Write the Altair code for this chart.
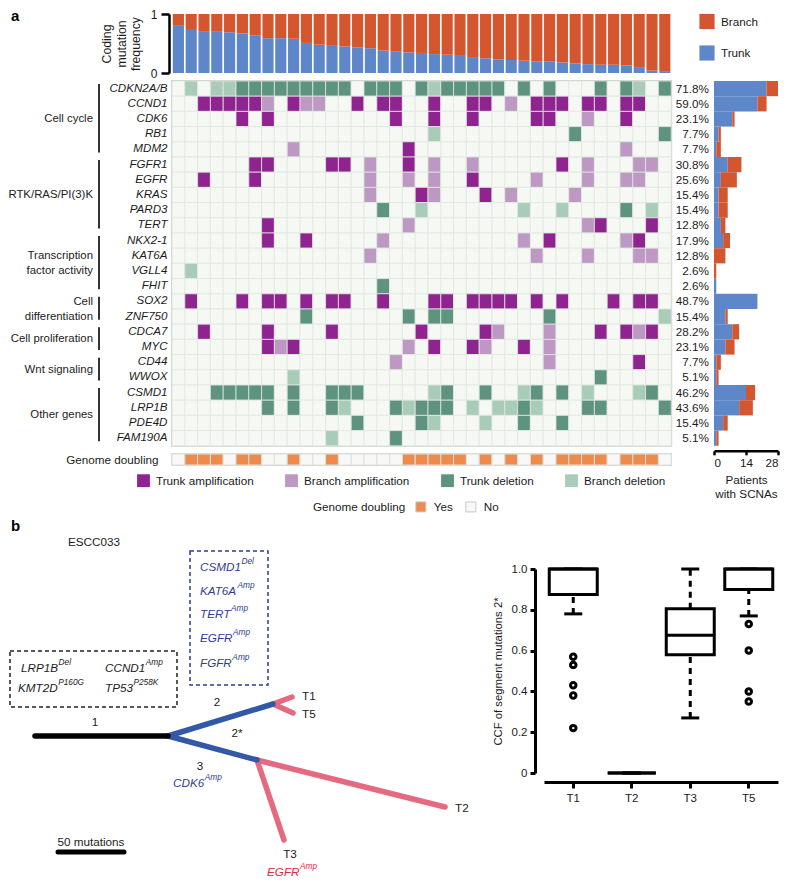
import altair as alt
import pandas as pd

FONT = "Liberation Sans"
TXT = "#1b1b1b"
FS = 11.7

BLUE = "#5E87C9"     # trunk
RED = "#D4562E"      # branch
C_TA = "#8F2490"
C_BA = "#BD98C3"
C_TD = "#5E947F"
C_BD = "#A9CCB9"
C_EMPTY = "#F5F8F3"
C_GRID = "#E1E7DF"
C_GD = "#EF8A4D"
NAVY = "#2E3D91"
TREE_BLUE = "#3358A8"
PINK = "#E56A80"
ERED = "#E0283C"

# ---------------- panel a data ----------------
n_patients = 39
genes = ["CDKN2A/B", "CCND1", "CDK6", "RB1", "MDM2",
         "FGFR1", "EGFR", "KRAS", "PARD3", "TERT",
         "NKX2-1", "KAT6A", "VGLL4", "FHIT",
         "SOX2", "ZNF750", "CDCA7", "MYC", "CD44", "WWOX",
         "CSMD1", "LRP1B", "PDE4D", "FAM190A"]
# one character per patient: A trunk amp, a branch amp, D trunk del, d branch del, . none
scna_calls = [
    ".d.dd DDDDD DDDD. DDD.D dDDDD D.D.D ...D. Dd.D",
    "..AAA AAa.A aa..A .AA.. A..AA .a.AA A.AA. AA..",
    "..... A.A.. ..... ..A.. A..A. ...AA ..a.. A...",
    "..... ..... ..... ..... d.... ..... .D... ...D",
    "..... ....a ..... ...A. ..... ..... ..... a...",
    "..... .AA.. ..AA. a..A. a..a. ..... A.a.. .aa.",
    "..A.. .A... ..... a..a. a..A. ...a. ..a.. aa..",
    "..... ..... ..... a...A a...A .a... .a... ....",
    "..... ..... ..... .D..d ..... ..d.. d.... D.d.",
    "..... ..A.. ..... ...a. ..... ..... ..aA. ..A.",
    "..... ..A.. A.... .a... ..... ..a.A ..... aA..",
    "..... ..... ..... a.... ..... ...a. ..a.. .aa.",
    ".d... ..... ..... ..... ..... ..... ..... ....",
    "..... ..... ..... .D... ..... ..... ..... ....",
    ".A... A.AA. A.AA. .A... AA.AA AA.A. A...A .AA.",
    "..... ..... D.... ...D. DD... ....D ..... ...d",
    "..A.. ..A.. ..A.. ....A ....A a...a ...A. AaA.",
    "..... ..AaA ..... ...a. A..Aa ..A.a ..... ....",
    "..... ..... ..... ..a.. ..... ....a ..... .A..",
    "..... ....d ..... ..... ..... ..... ...D. ....",
    "...DD DDD.D ..DDD ..... dD..D ..dD. D.d.. .dD.",
    "..... ..D.D ..Dd. ..DdD DD.d. ddDd. ..DD. ...D",
    "..... ..... ....D ....D d...d ..D.. D.... ....",
    "..... ..... ..d.. ..D.. ..... ..... ..... ....",
]
genome_doubling = ".YYY. YY..Y ..Y.. ...YY YYY.Y .Y.Y. YYYY. YYY."
trunk_fraction = [0.80, 0.73, 0.71, 0.71, 0.69, 0.67, 0.64, 0.59, 0.59, 0.58,
                  0.51, 0.48, 0.46, 0.45, 0.43, 0.42, 0.38, 0.36, 0.35, 0.34,
                  0.32, 0.31, 0.29, 0.27, 0.25, 0.23, 0.22, 0.21, 0.20, 0.20,
                  0.18, 0.16, 0.15, 0.14, 0.14, 0.13, 0.10, 0.04, 0.02]
group_names = ["Cell cycle", "RTK/RAS/PI(3)K", "Transcription\nfactor activity",
               "Cell\ndifferentiation", "Cell proliferation", "Wnt signaling", "Other genes"]
group_first = ["CDKN2A/B", "FGFR1", "NKX2-1", "SOX2", "CDCA7", "CD44", "CSMD1"]
group_last = ["MDM2", "TERT", "FHIT", "ZNF750", "MYC", "WWOX", "FAM190A"]
status_names = ["Trunk amplification", "Branch amplification", "Trunk deletion", "Branch deletion", "None"]
status_codes = ["A", "a", "D", "d", "."]
legend_kinds = ["Branch", "Trunk"]
scna_axis_ticks = [0, 14, 28]

# ---------------- panel b data ----------------
node_name = ["root", "mrca", "n2", "n3", "T1", "T5", "T3", "T2"]
node_x = [25, 158, 263, 247, 282, 283, 274, 435]
node_y = [210, 210, 178, 234, 171, 187, 314, 281]
edge_from = ["root", "mrca", "mrca", "n2", "n2", "n3", "n3"]
edge_to = ["mrca", "n2", "n3", "T1", "T5", "T3", "T2"]
edge_kind = ["trunk", "shared", "shared", "private", "private", "private", "private"]

tumors = ["T1", "T2", "T3", "T5"]
box_q1 = [0.875, 0.0, 0.58, 0.90]
box_med = [1.0, 0.0, 0.675, 1.0]
box_q3 = [1.0, 0.0, 0.805, 1.0]
whisk_lo = [0.78, 0.0, 0.27, 0.77]
whisk_hi = [1.0, 0.0, 1.0, 1.0]
outlier_tumor = ["T1", "T1", "T1", "T1", "T1", "T5", "T5", "T5", "T5"]
outlier_ccf = [0.57, 0.53, 0.43, 0.38, 0.22, 0.73, 0.60, 0.40, 0.35]
ccf_ticks = [0, 0.2, 0.4, 0.6, 0.8, 1.0]

# ---------------- derived tables ----------------
calls = [s.replace(" ", "") for s in scna_calls]
gd_calls = genome_doubling.replace(" ", "")
assert all(len(s) == n_patients for s in calls) and len(gd_calls) == n_patients
code2name = dict(zip(status_codes, status_names))

W = 12.8 * n_patients
H = 15.2 * len(genes)
GUT = 162
RW = 106      # right column (gap + patients bar)
RGAP = 42

heat_df = pd.DataFrame([{"gene": g, "patient": i, "status": code2name[c]}
                        for g, s in zip(genes, calls) for i, c in enumerate(s)])
trunk_n = [s.count("A") + s.count("D") for s in calls]
branch_n = [s.count("a") + s.count("d") for s in calls]
total_n = [t + b for t, b in zip(trunk_n, branch_n)]
rb_df = pd.DataFrame({"gene": genes, "trunk": trunk_n, "total": total_n,
                      "pct": [f"{100 * t / n_patients:.1f}%" for t in total_n]})
tb_df = pd.DataFrame({"patient": list(range(n_patients)), "trunk": trunk_fraction})
tb_df["all"] = 1.0
gd_df = pd.DataFrame({"patient": list(range(n_patients)), "row": "Genome doubling",
                      "gd": ["Yes" if c == "Y" else "No" for c in gd_calls]})
grp_df = pd.DataFrame({"group": group_names,
                       "first": [genes.index(g) for g in group_first],
                       "last": [genes.index(g) for g in group_last]})
grp_df["y1"] = grp_df["first"] + 0.2
grp_df["y2"] = grp_df["last"] + 0.7
grp_df["mid"] = (grp_df["first"] + grp_df["last"] + 1) / 2.0
grp_df["lines"] = [g.count("\n") + 1 for g in group_names]


def blank(w, h):
    return alt.Chart(pd.DataFrame({"t": [""]})).mark_text().encode(
        text="t:N", x=alt.value(0), y=alt.value(0)).properties(width=w, height=h)


# ---------------- row 1: top bar ----------------
a_label = alt.Chart(pd.DataFrame({"t": ["a"]})).mark_text(
    align="left", baseline="top", fontSize=15, fontWeight="bold", color="black").encode(
    text="t:N", x=alt.value(1), y=alt.value(-5)).properties(width=GUT, height=59)

tbx = alt.X("patient:O", scale=alt.Scale(paddingInner=0.13, paddingOuter=0.065), axis=None)
tb_axis = alt.Axis(values=[0, 1], format="d", title=["Coding", "mutation", "frequency"],
                   titleFontSize=12.3, titleFontWeight="normal", titlePadding=8, titleColor=TXT,
                   labelFontSize=12, labelPadding=4, labelColor=TXT, domainColor="black",
                   domainWidth=2.5, tickColor="black", tickWidth=2.5, tickSize=8, offset=3, grid=False)
tb_trunk = alt.Chart(tb_df).mark_bar(color=BLUE).encode(
    x=tbx, y=alt.Y("trunk:Q", scale=alt.Scale(domain=[0, 1], nice=False), axis=tb_axis))
tb_branch = alt.Chart(tb_df).mark_bar(color=RED).encode(x=tbx, y="trunk:Q", y2="all:Q")
topbar = alt.layer(tb_trunk, tb_branch).properties(width=W, height=59)

bt_df = pd.DataFrame({"kind": legend_kinds})
bt_y = alt.Y("kind:N", scale=alt.Scale(type="point", domain=legend_kinds, range=[7.5, 39], padding=0), axis=None)
bt_b = alt.Chart(bt_df).transform_filter(alt.datum.kind == "Branch").mark_square(
    size=230, color=RED, opacity=1).encode(x=alt.value(35), y=bt_y)
bt_t = alt.Chart(bt_df).transform_filter(alt.datum.kind == "Trunk").mark_square(
    size=230, color=BLUE, opacity=1).encode(x=alt.value(35), y=bt_y)
bt_txt = alt.Chart(bt_df).mark_text(align="left", baseline="middle", fontSize=FS, color=TXT).encode(
    x=alt.value(49), y=bt_y, text="kind:N")
legend_bt = alt.layer(bt_b, bt_t, bt_txt).properties(width=RW, height=59)

# ---------------- row 2: heatmap ----------------
gys = alt.Scale(domain=[0, len(genes)], reverse=True, nice=False, zero=False)
grp_rule = alt.Chart(grp_df).mark_rule(strokeWidth=2, color="#333333").encode(
    x=alt.value(89), y=alt.Y("y1:Q", scale=gys, axis=None), y2="y2:Q")
grp_text1 = alt.Chart(grp_df).transform_filter(alt.datum.lines == 1).mark_text(
    align="right", baseline="middle", fontSize=11.4, color=TXT).encode(
    x=alt.value(83), y=alt.Y("mid:Q", scale=gys, axis=None), text="group:N")
grp_text2 = alt.Chart(grp_df).transform_filter(alt.datum.lines == 2).mark_text(
    align="right", baseline="middle", fontSize=11.4, lineBreak="\n", lineHeight=14.5, dy=-7,
    color=TXT).encode(
    x=alt.value(83), y=alt.Y("mid:Q", scale=gys, axis=None), text="group:N")
groups = alt.layer(grp_rule, grp_text1, grp_text2).properties(width=GUT, height=H)

heat = alt.Chart(heat_df).mark_rect(stroke=C_GRID, strokeWidth=0.8).encode(
    x=alt.X("patient:O", scale=alt.Scale(paddingInner=0, paddingOuter=0), axis=None),
    y=alt.Y("gene:N", sort=genes, scale=alt.Scale(paddingInner=0, paddingOuter=0),
            axis=alt.Axis(title=None, domain=False, ticks=False, labelPadding=5, labelFontSize=11.6,
                          labelFontStyle="italic", labelColor=TXT)),
    color=alt.Color("status:N", scale=alt.Scale(domain=status_names,
                                                range=[C_TA, C_BA, C_TD, C_BD, C_EMPTY]),
                    legend=alt.Legend(title=None, orient="none", legendX=-35, legendY=H + 28,
                                      direction="horizontal", columns=4, values=status_names[:4],
                                      symbolType="square", symbolSize=165, symbolStrokeWidth=0,
                                      labelFontSize=FS, labelColor=TXT, labelOffset=6,
                                      columnPadding=31))
).properties(width=W, height=H, view=alt.ViewBackground(stroke="#C9CDC7", strokeWidth=2))

rby = alt.Y("gene:N", sort=genes, scale=alt.Scale(paddingInner=0, paddingOuter=0), axis=None)
rb_axis = alt.Axis(values=scna_axis_ticks, title=["Patients", "with SCNAs"], titleFontSize=FS,
                   titleFontWeight="normal", titlePadding=5, titleColor=TXT, labelFontSize=FS,
                   labelColor=TXT, labelPadding=3, domainColor="black", domainWidth=2.5,
                   tickColor="black", tickWidth=2.5, tickSize=4, offset=5, grid=False,
                   titleX=RGAP + (RW - RGAP) / 2.0)
rb_trunk = alt.Chart(rb_df).mark_bar(color=BLUE).encode(
    x=alt.X("trunk:Q", scale=alt.Scale(domain=[0, 28], nice=False, range=[RGAP, RW]), axis=rb_axis),
    y=rby)
rb_branch = alt.Chart(rb_df).mark_bar(color=RED).encode(x="trunk:Q", x2="total:Q", y=rby)
rb_text = alt.Chart(rb_df).mark_text(align="right", baseline="middle", fontSize=FS, color=TXT).encode(
    x=alt.value(RGAP - 5), y=rby, text="pct:N")
rightbar = alt.layer(rb_trunk, rb_branch, rb_text).properties(width=RW, height=H)

# ---------------- row 3: genome doubling ----------------
gd = alt.Chart(gd_df).mark_rect(stroke="#DCE0DA", strokeWidth=1).encode(
    x=alt.X("patient:O", scale=alt.Scale(paddingInner=0, paddingOuter=0), axis=None),
    y=alt.Y("row:N", axis=alt.Axis(title=None, domain=False, ticks=False, labelPadding=14,
                                   labelFontSize=FS, labelColor=TXT)),
    color=alt.Color("gd:N", scale=alt.Scale(domain=["Yes", "No"], range=[C_GD, "#F8F8F6"]),
                    legend=alt.Legend(title="Genome doubling", titleOrient="left", orient="none",
                                      legendX=141, legendY=47, direction="horizontal",
                                      symbolType="square", symbolSize=100, symbolStrokeColor="#C8C8C8",
                                      symbolStrokeWidth=1, titleFontWeight="normal", titleFontSize=FS,
                                      titleColor=TXT, labelFontSize=FS, labelColor=TXT,
                                      titlePadding=9, columnPadding=10, labelOffset=7))
).properties(width=W, height=11, view=alt.ViewBackground(stroke="#C9CDC7", strokeWidth=1.5))

panel_a = alt.concat(a_label, topbar, legend_bt,
                     groups, heat, rightbar,
                     blank(GUT, 11), gd, blank(RW, 11),
                     columns=3, spacing={"row": 8, "column": 0}, bounds="flush"
                     ).resolve_scale(color="independent").resolve_legend(color="independent")

# ---------------- panel b: tree ----------------
pos = dict(zip(node_name, zip(node_x, node_y)))
edge_df = pd.DataFrame({"kind": edge_kind,
                        "x": [pos[a][0] for a in edge_from], "y": [pos[a][1] for a in edge_from],
                        "x2": [pos[b][0] for b in edge_to], "y2": [pos[b][1] for b in edge_to]})
TW, TH = 462, 350
txs = alt.Scale(domain=[0, TW], nice=False, zero=False)
tys = alt.Scale(domain=[0, TH], nice=False, zero=False, reverse=True)


def tx(f):
    return alt.X(f, scale=txs, axis=None)


def ty(f):
    return alt.Y(f, scale=tys, axis=None)


def edges(kind, color):
    return alt.Chart(edge_df).transform_filter(alt.datum.kind == kind).mark_rule(
        color=color, strokeWidth=5.5, strokeCap="round").encode(
        x=tx("x:Q"), y=ty("y:Q"), x2="x2:Q", y2="y2:Q")


box_df = pd.DataFrame({"x": [0, 180], "x2": [167, 258], "y": [125, 25], "y2": [181, 159],
                       "c": ["k", "n"]})
dash_k = alt.Chart(box_df).transform_filter(alt.datum.c == "k").mark_rect(
    fill=None, stroke="#222222", strokeWidth=1.5, strokeDash=[4, 3]).encode(
    x=tx("x:Q"), x2="x2:Q", y=ty("y:Q"), y2="y2:Q")
dash_n = alt.Chart(box_df).transform_filter(alt.datum.c == "n").mark_rect(
    fill=None, stroke=NAVY, strokeWidth=1.5, strokeDash=[4, 3]).encode(
    x=tx("x:Q"), x2="x2:Q", y=ty("y:Q"), y2="y2:Q")

plain_txt = ["ESCC033", "1", "2", "2*", "3", "T1", "T5", "T3", "T2", "50 mutations"]
plain_x = [58, 85, 207, 227, 190, 292, 292, 280, 445, 81]
plain_y = [16, 196, 176, 207, 240, 170, 188, 328, 282, 316]
plain_align = ["left", "center", "center", "center", "center", "left", "left", "center", "left", "center"]
plain_df = pd.DataFrame({"t": plain_txt, "x": plain_x, "y": plain_y, "al": plain_align})
plain_layers = []
for al in ["left", "center"]:
    plain_layers.append(alt.Chart(plain_df).transform_filter(alt.datum.al == al).mark_text(
        align=al, baseline="middle", fontSize=FS, color=TXT).encode(
        x=tx("x:Q"), y=ty("y:Q"), text="t:N"))

scale_df = pd.DataFrame({"x": [48], "x2": [114], "y": [326]})
scale_bar = alt.Chart(scale_df).mark_rule(color="black", strokeWidth=5, strokeCap="round").encode(
    x=tx("x:Q"), x2="x2:Q", y=ty("y:Q"))

EM = {"A": .667, "B": .667, "C": .722, "D": .722, "E": .667, "F": .611, "G": .778, "K": .667,
      "L": .556, "M": .833, "N": .722, "P": .667, "R": .722, "S": .667, "T": .611}


def text_w(s, size):
    return sum(EM.get(ch, .556) for ch in s) * size


sup_base = ["CSMD1", "KAT6A", "TERT", "EGFR", "FGFR", "LRP1B", "CCND1", "KMT2D", "TP53", "CDK6", "EGFR"]
sup_text = ["Del", "Amp", "Amp", "Amp", "Amp", "Del", "Amp", "P160G", "P258K", "Amp", "Amp"]
sup_x = [190, 190, 190, 190, 190, 11, 95, 8, 95, 163, 257]
sup_y = [41, 65, 88, 112, 137, 142, 142, 162, 162, 257, 346]
sup_col = ["n", "n", "n", "n", "n", "k", "k", "k", "k", "n", "r"]
sup_df = pd.DataFrame({"base": sup_base, "sup": sup_text, "x": sup_x, "y": sup_y, "c": sup_col})
sup_df["xs"] = [x + text_w(b, FS) + 0.5 for x, b in zip(sup_x, sup_base)]
sup_layers = []
for c, col in [("n", NAVY), ("k", TXT), ("r", ERED)]:
    sub = alt.Chart(sup_df).transform_filter(alt.datum.c == c)
    sup_layers.append(sub.mark_text(align="left", baseline="middle", fontSize=FS, fontStyle="italic",
                                    color=col).encode(x=tx("x:Q"), y=ty("y:Q"), text="base:N"))
    sup_layers.append(sub.mark_text(align="left", baseline="middle", fontSize=8.3, fontStyle="italic",
                                    dy=-5, color=col).encode(x=tx("xs:Q"), y=ty("y:Q"), text="sup:N"))

b_label = alt.Chart(pd.DataFrame({"t": ["b"]})).mark_text(
    align="left", baseline="middle", fontSize=15, fontWeight="bold", color="black").encode(
    text="t:N", x=alt.value(1), y=alt.value(0))

tree = alt.layer(dash_k, dash_n, edges("private", PINK), edges("shared", TREE_BLUE),
                 edges("trunk", "black"), scale_bar, *plain_layers, *sup_layers, b_label
                 ).properties(width=TW, height=TH)

# ---------------- panel b: boxplot ----------------
BOX_TOP, BOX_BOTTOM = 43, 247
bx_df = pd.DataFrame({"tumor": tumors, "q1": box_q1, "med": box_med, "q3": box_q3,
                      "lo": whisk_lo, "hi": whisk_hi})
out_df = pd.DataFrame({"tumor": outlier_tumor, "ccf": outlier_ccf})
bxx = alt.X("tumor:N", scale=alt.Scale(domain=tumors, paddingInner=0, paddingOuter=0),
            axis=alt.Axis(title=None, labelAngle=0, offset=9, domainColor="black", domainWidth=3,
                          tickColor="black", tickWidth=3, tickSize=6, labelFontSize=11.5,
                          labelColor=TXT, labelPadding=4))
yax = alt.Axis(values=ccf_ticks, labelExpr="datum.value == 0 ? '0' : format(datum.value, '.1f')",
               offset=9, domainColor="black", domainWidth=3, tickColor="black", tickWidth=3,
               tickSize=5, labelFontSize=11.5, labelColor=TXT, labelPadding=3,
               title="CCF of segment mutations 2*", titleFontSize=11.3, titleFontWeight="normal",
               titleColor=TXT, titlePadding=8, grid=False, titleY=(BOX_TOP + BOX_BOTTOM) / 2.0)
ysc = alt.Scale(domain=[0, 1], nice=False, zero=False, range=[BOX_BOTTOM, BOX_TOP])
wh_lo = alt.Chart(bx_df).mark_rule(color="black", strokeWidth=3, strokeDash=[6, 5]).encode(
    x=bxx, y=alt.Y("lo:Q", scale=ysc, axis=yax), y2="q1:Q")
wh_hi = alt.Chart(bx_df).mark_rule(color="black", strokeWidth=3, strokeDash=[6, 5]).encode(
    x=bxx, y="q3:Q", y2="hi:Q")
cap_lo = alt.Chart(bx_df).mark_tick(color="black", thickness=3, size=18, opacity=1).encode(x=bxx, y="lo:Q")
cap_hi = alt.Chart(bx_df).mark_tick(color="black", thickness=3, size=18, opacity=1).encode(x=bxx, y="hi:Q")
boxes = alt.Chart(bx_df).mark_bar(size=48, fill="white", stroke="black", strokeWidth=3, opacity=1).encode(
    x=bxx, y="q1:Q", y2="q3:Q")
meds = alt.Chart(bx_df).mark_tick(color="black", thickness=3, size=48, opacity=1).encode(x=bxx, y="med:Q")
outs = alt.Chart(out_df).mark_point(filled=False, color="black", size=30, strokeWidth=3, opacity=1).encode(
    x=bxx, y="ccf:Q")
boxplot = alt.layer(wh_lo, wh_hi, cap_lo, cap_hi, boxes, meds, outs).properties(width=234, height=BOX_BOTTOM)

panel_b = alt.hconcat(tree, boxplot, spacing=72, bounds="flush")

chart = alt.vconcat(panel_a, panel_b, spacing=4,
                    padding={"left": 0, "right": 0, "top": 0, "bottom": 0}
                    ).resolve_scale(color="independent").resolve_legend(color="independent")
chart = chart.configure(font=FONT).configure_view(stroke=None).configure_axis(
    labelFont=FONT, titleFont=FONT).configure_legend(labelFont=FONT, titleFont=FONT, padding=0)

chart.save("out.html", embed_options={"renderer": "svg", "actions": False})
